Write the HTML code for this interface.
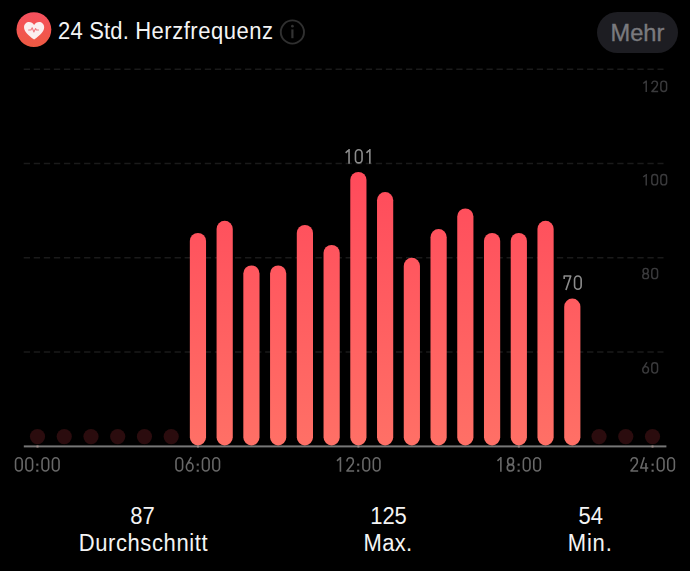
<!DOCTYPE html>
<html><head><meta charset="utf-8"><style>
html,body{margin:0;padding:0;background:#000;}
body{width:690px;height:571px;position:relative;overflow:hidden;font-family:"Liberation Sans",sans-serif;}
.t{position:absolute;white-space:nowrap;line-height:1;}
.title{left:58.1px;top:19.6px;font-size:22px;color:#f4f4f4;letter-spacing:0.32px;transform:scaleY(1.065);transform-origin:0 0;}
.mehr{left:596.6px;top:12px;width:81.6px;height:41px;border-radius:20.5px;background:#1d1d22;}
.mehrt{left:596.6px;top:13.4px;width:81.6px;color:#7a7a7e;font-size:23.7px;text-align:center;line-height:41px;-webkit-text-stroke:0.35px #7a7a7e;}
.st{color:#f4f4f4;font-size:22px;text-align:center;width:200px;transform:scaleY(1.065);transform-origin:50% 0;}
</style></head><body>
<svg width="690" height="571" style="position:absolute;left:0;top:0">
<defs>
<linearGradient id="g" gradientUnits="userSpaceOnUse" x1="0" y1="170" x2="0" y2="446"><stop offset="0" stop-color="#ff4a5b"/><stop offset="1" stop-color="#ff7066"/></linearGradient>
<linearGradient id="ic" x1="0" y1="0" x2="0" y2="1"><stop offset="0" stop-color="#f6505f"/><stop offset="1" stop-color="#ee5a42"/></linearGradient>
</defs>
<line x1="23.7" x2="663.5" y1="69.2" y2="69.2" stroke="#1a1a1a" stroke-width="1.5" stroke-dasharray="6.3 3.76"/>
<line x1="23.7" x2="663.5" y1="163.5" y2="163.5" stroke="#1a1a1a" stroke-width="1.5" stroke-dasharray="6.3 3.76"/>
<line x1="23.7" x2="663.5" y1="257.8" y2="257.8" stroke="#1a1a1a" stroke-width="1.5" stroke-dasharray="6.3 3.76"/>
<line x1="23.7" x2="663.5" y1="352.0" y2="352.0" stroke="#1a1a1a" stroke-width="1.5" stroke-dasharray="6.3 3.76"/>

<circle cx="37.50" cy="436.6" r="7.6" fill="#2b0c0e"/>
<circle cx="64.24" cy="436.6" r="7.6" fill="#2b0c0e"/>
<circle cx="90.98" cy="436.6" r="7.6" fill="#2b0c0e"/>
<circle cx="117.72" cy="436.6" r="7.6" fill="#2b0c0e"/>
<circle cx="144.46" cy="436.6" r="7.6" fill="#2b0c0e"/>
<circle cx="171.20" cy="436.6" r="7.6" fill="#2b0c0e"/>
<circle cx="599.04" cy="436.6" r="7.6" fill="#2b0c0e"/>
<circle cx="625.78" cy="436.6" r="7.6" fill="#2b0c0e"/>
<circle cx="652.52" cy="436.6" r="7.6" fill="#2b0c0e"/>

<rect x="23.8" y="445.4" width="642.6" height="2.0" fill="#767676"/>
<rect x="189.84" y="232.9" width="16.2" height="212.5" rx="8.1" fill="url(#g)"/>
<rect x="216.58" y="220.8" width="16.2" height="224.6" rx="8.1" fill="url(#g)"/>
<rect x="243.32" y="265.4" width="16.2" height="180.0" rx="8.1" fill="url(#g)"/>
<rect x="270.06" y="265.4" width="16.2" height="180.0" rx="8.1" fill="url(#g)"/>
<rect x="296.80" y="224.9" width="16.2" height="220.5" rx="8.1" fill="url(#g)"/>
<rect x="323.54" y="245.0" width="16.2" height="200.4" rx="8.1" fill="url(#g)"/>
<rect x="350.28" y="171.9" width="16.2" height="273.5" rx="8.1" fill="url(#g)"/>
<rect x="377.02" y="192.1" width="16.2" height="253.3" rx="8.1" fill="url(#g)"/>
<rect x="403.76" y="257.8" width="16.2" height="187.6" rx="8.1" fill="url(#g)"/>
<rect x="430.50" y="229.1" width="16.2" height="216.3" rx="8.1" fill="url(#g)"/>
<rect x="457.24" y="208.4" width="16.2" height="237.0" rx="8.1" fill="url(#g)"/>
<rect x="483.98" y="232.9" width="16.2" height="212.5" rx="8.1" fill="url(#g)"/>
<rect x="510.72" y="232.9" width="16.2" height="212.5" rx="8.1" fill="url(#g)"/>
<rect x="537.46" y="220.8" width="16.2" height="224.6" rx="8.1" fill="url(#g)"/>
<rect x="564.20" y="298.6" width="16.2" height="146.8" rx="8.1" fill="url(#g)"/>

<rect x="36.50" y="445.5" width="2" height="2" fill="#a08c88"/>
<rect x="196.94" y="445.5" width="2" height="2" fill="#a08c88"/>
<rect x="357.38" y="445.5" width="2" height="2" fill="#a08c88"/>
<rect x="517.82" y="445.5" width="2" height="2" fill="#a08c88"/>
<rect x="651.52" y="445.5" width="2" height="2" fill="#a08c88"/>

<g transform="translate(13.65,457.00) scale(1.0,1.0)" fill="none" stroke="#686868" stroke-width="1.6" stroke-linejoin="round"><g transform="translate(0.00,0)"><path d="M1.9,4.3 A3.3,3.5 0 0 1 8.5,4.3 L8.5,10.5 A3.3,3.5 0 0 1 1.9,10.5 Z"/></g><g transform="translate(10.40,0)"><path d="M1.9,4.3 A3.3,3.5 0 0 1 8.5,4.3 L8.5,10.5 A3.3,3.5 0 0 1 1.9,10.5 Z"/></g><rect x="22.60" y="6.6" width="2.1" height="2.1" fill="#686868" stroke="none"/><rect x="22.60" y="12.7" width="2.1" height="2.1" fill="#686868" stroke="none"/><g transform="translate(26.50,0)"><path d="M1.9,4.3 A3.3,3.5 0 0 1 8.5,4.3 L8.5,10.5 A3.3,3.5 0 0 1 1.9,10.5 Z"/></g><g transform="translate(36.90,0)"><path d="M1.9,4.3 A3.3,3.5 0 0 1 8.5,4.3 L8.5,10.5 A3.3,3.5 0 0 1 1.9,10.5 Z"/></g></g>
<g transform="translate(174.09,457.00) scale(1.0,1.0)" fill="none" stroke="#686868" stroke-width="1.6" stroke-linejoin="round"><g transform="translate(0.00,0)"><path d="M1.9,4.3 A3.3,3.5 0 0 1 8.5,4.3 L8.5,10.5 A3.3,3.5 0 0 1 1.9,10.5 Z"/></g><g transform="translate(10.40,0)"><path d="M6.7,0.2 L2.7,7.4 M1.9,9.9 A3.3,4.1 0 1 1 8.5,9.9 A3.3,4.1 0 1 1 1.9,9.9 Z"/></g><rect x="22.60" y="6.6" width="2.1" height="2.1" fill="#686868" stroke="none"/><rect x="22.60" y="12.7" width="2.1" height="2.1" fill="#686868" stroke="none"/><g transform="translate(26.50,0)"><path d="M1.9,4.3 A3.3,3.5 0 0 1 8.5,4.3 L8.5,10.5 A3.3,3.5 0 0 1 1.9,10.5 Z"/></g><g transform="translate(36.90,0)"><path d="M1.9,4.3 A3.3,3.5 0 0 1 8.5,4.3 L8.5,10.5 A3.3,3.5 0 0 1 1.9,10.5 Z"/></g></g>
<g transform="translate(334.53,457.00) scale(1.0,1.0)" fill="none" stroke="#686868" stroke-width="1.6" stroke-linejoin="round"><g transform="translate(0.00,0)"><path d="M2.5,3.9 L5.9,0.75 M5.9,0 L5.9,14.8"/></g><g transform="translate(10.40,0)"><path d="M2.0,4.5 C2.0,2.2 3.3,0.8 5.2,0.8 C7.1,0.8 8.4,2.2 8.4,4.3 C8.4,5.6 8.0,6.5 7.2,7.6 L2.0,14.0 L9.2,14.0"/></g><rect x="22.60" y="6.6" width="2.1" height="2.1" fill="#686868" stroke="none"/><rect x="22.60" y="12.7" width="2.1" height="2.1" fill="#686868" stroke="none"/><g transform="translate(26.50,0)"><path d="M1.9,4.3 A3.3,3.5 0 0 1 8.5,4.3 L8.5,10.5 A3.3,3.5 0 0 1 1.9,10.5 Z"/></g><g transform="translate(36.90,0)"><path d="M1.9,4.3 A3.3,3.5 0 0 1 8.5,4.3 L8.5,10.5 A3.3,3.5 0 0 1 1.9,10.5 Z"/></g></g>
<g transform="translate(494.97,457.00) scale(1.0,1.0)" fill="none" stroke="#686868" stroke-width="1.6" stroke-linejoin="round"><g transform="translate(0.00,0)"><path d="M2.5,3.9 L5.9,0.75 M5.9,0 L5.9,14.8"/></g><g transform="translate(10.40,0)"><path d="M2.3,4.2 A2.9,3.4 0 1 1 8.1,4.2 A2.9,3.4 0 1 1 2.3,4.2 Z M1.9,10.8 A3.3,3.2 0 1 1 8.5,10.8 A3.3,3.2 0 1 1 1.9,10.8 Z"/></g><rect x="22.60" y="6.6" width="2.1" height="2.1" fill="#686868" stroke="none"/><rect x="22.60" y="12.7" width="2.1" height="2.1" fill="#686868" stroke="none"/><g transform="translate(26.50,0)"><path d="M1.9,4.3 A3.3,3.5 0 0 1 8.5,4.3 L8.5,10.5 A3.3,3.5 0 0 1 1.9,10.5 Z"/></g><g transform="translate(36.90,0)"><path d="M1.9,4.3 A3.3,3.5 0 0 1 8.5,4.3 L8.5,10.5 A3.3,3.5 0 0 1 1.9,10.5 Z"/></g></g>
<g transform="translate(628.97,457.00) scale(1.0,1.0)" fill="none" stroke="#686868" stroke-width="1.6" stroke-linejoin="round"><g transform="translate(0.00,0)"><path d="M2.0,4.5 C2.0,2.2 3.3,0.8 5.2,0.8 C7.1,0.8 8.4,2.2 8.4,4.3 C8.4,5.6 8.0,6.5 7.2,7.6 L2.0,14.0 L9.2,14.0"/></g><g transform="translate(10.40,0)"><path d="M4.9,0.2 L1.4,11.0 L8.9,11.0 M6.6,6.0 L6.6,14.8"/></g><rect x="22.60" y="6.6" width="2.1" height="2.1" fill="#686868" stroke="none"/><rect x="22.60" y="12.7" width="2.1" height="2.1" fill="#686868" stroke="none"/><g transform="translate(26.50,0)"><path d="M1.9,4.3 A3.3,3.5 0 0 1 8.5,4.3 L8.5,10.5 A3.3,3.5 0 0 1 1.9,10.5 Z"/></g><g transform="translate(36.90,0)"><path d="M1.9,4.3 A3.3,3.5 0 0 1 8.5,4.3 L8.5,10.5 A3.3,3.5 0 0 1 1.9,10.5 Z"/></g></g>
<g transform="translate(343.15,148.90) scale(1.0,1.0)" fill="none" stroke="#8c8c8c" stroke-width="1.6" stroke-linejoin="round"><g transform="translate(0.00,0)"><path d="M2.5,3.9 L5.9,0.75 M5.9,0 L5.9,14.8"/></g><g transform="translate(10.40,0)"><path d="M1.9,4.3 A3.3,3.5 0 0 1 8.5,4.3 L8.5,10.5 A3.3,3.5 0 0 1 1.9,10.5 Z"/></g><g transform="translate(20.80,0)"><path d="M2.5,3.9 L5.9,0.75 M5.9,0 L5.9,14.8"/></g></g>
<g transform="translate(562.25,275.20) scale(1.0,1.0)" fill="none" stroke="#8c8c8c" stroke-width="1.6" stroke-linejoin="round"><g transform="translate(0.00,0)"><path d="M1.9,3.9 L1.9,0.8 L8.5,0.8 L3.7,14.8"/></g><g transform="translate(10.40,0)"><path d="M1.9,4.3 A3.3,3.5 0 0 1 8.5,4.3 L8.5,10.5 A3.3,3.5 0 0 1 1.9,10.5 Z"/></g></g>
<g transform="translate(641.10,80.50) scale(0.87,0.784)" fill="none" stroke="#3a3a3c" stroke-width="1.7" stroke-linejoin="round"><g transform="translate(0.00,0)"><path d="M2.5,3.9 L5.9,0.75 M5.9,0 L5.9,14.8"/></g><g transform="translate(10.40,0)"><path d="M2.0,4.5 C2.0,2.2 3.3,0.8 5.2,0.8 C7.1,0.8 8.4,2.2 8.4,4.3 C8.4,5.6 8.0,6.5 7.2,7.6 L2.0,14.0 L9.2,14.0"/></g><g transform="translate(20.80,0)"><path d="M1.9,4.3 A3.3,3.5 0 0 1 8.5,4.3 L8.5,10.5 A3.3,3.5 0 0 1 1.9,10.5 Z"/></g></g>
<g transform="translate(641.10,173.90) scale(0.87,0.784)" fill="none" stroke="#3a3a3c" stroke-width="1.7" stroke-linejoin="round"><g transform="translate(0.00,0)"><path d="M2.5,3.9 L5.9,0.75 M5.9,0 L5.9,14.8"/></g><g transform="translate(10.40,0)"><path d="M1.9,4.3 A3.3,3.5 0 0 1 8.5,4.3 L8.5,10.5 A3.3,3.5 0 0 1 1.9,10.5 Z"/></g><g transform="translate(20.80,0)"><path d="M1.9,4.3 A3.3,3.5 0 0 1 8.5,4.3 L8.5,10.5 A3.3,3.5 0 0 1 1.9,10.5 Z"/></g></g>
<g transform="translate(641.10,267.70) scale(0.87,0.784)" fill="none" stroke="#3a3a3c" stroke-width="1.7" stroke-linejoin="round"><g transform="translate(0.00,0)"><path d="M2.3,4.2 A2.9,3.4 0 1 1 8.1,4.2 A2.9,3.4 0 1 1 2.3,4.2 Z M1.9,10.8 A3.3,3.2 0 1 1 8.5,10.8 A3.3,3.2 0 1 1 1.9,10.8 Z"/></g><g transform="translate(10.40,0)"><path d="M1.9,4.3 A3.3,3.5 0 0 1 8.5,4.3 L8.5,10.5 A3.3,3.5 0 0 1 1.9,10.5 Z"/></g></g>
<g transform="translate(641.10,362.10) scale(0.87,0.784)" fill="none" stroke="#3a3a3c" stroke-width="1.7" stroke-linejoin="round"><g transform="translate(0.00,0)"><path d="M6.7,0.2 L2.7,7.4 M1.9,9.9 A3.3,4.1 0 1 1 8.5,9.9 A3.3,4.1 0 1 1 1.9,9.9 Z"/></g><g transform="translate(10.40,0)"><path d="M1.9,4.3 A3.3,3.5 0 0 1 8.5,4.3 L8.5,10.5 A3.3,3.5 0 0 1 1.9,10.5 Z"/></g></g>

<circle cx="33.9" cy="29.6" r="17.4" fill="url(#ic)"/>
<g transform="translate(34.1,30.8) scale(1.06,1.03) translate(-34,-31)"><path d="M34 39.5 C28 35 24.5 31.5 24.5 27.5 C24.5 24.5 26.8 22.5 29.3 22.5 C31.2 22.5 33 23.6 34 25.3 C35 23.6 36.8 22.5 38.7 22.5 C41.2 22.5 43.5 24.5 43.5 27.5 C43.5 31.5 40 35 34 39.5 Z" fill="#fbeff0"/>
<path d="M28.8 30.2 L31 30.2 L32.2 28 L33.8 32.2 L35.4 28.8 L36.2 30.2 L38.2 30.2" fill="none" stroke="#f07880" stroke-width="1.0" stroke-linejoin="round" stroke-linecap="round"/></g>
<circle cx="292.4" cy="32" r="11.6" fill="none" stroke="#303030" stroke-width="1.9"/>
<rect x="291.3" y="29.4" width="2.2" height="8.8" fill="#333333"/>
<circle cx="292.4" cy="26.2" r="1.35" fill="#333333"/>
</svg>
<div class="t title"><span style="letter-spacing:0.16px">24 Std. </span><span style="letter-spacing:0.51px">Herzfrequenz</span></div>
<div class="t mehr"></div><div class="t mehrt">Mehr</div>
<div class="t st" style="left:42.5px;top:504.6px">87</div>
<div class="t st" style="left:43.4px;top:531.5px;letter-spacing:0.6px">Durchschnitt</div>
<div class="t st" style="left:288.5px;top:504.6px">125</div>
<div class="t st" style="left:288px;top:531.5px;letter-spacing:0.35px">Max.</div>
<div class="t st" style="left:490.7px;top:504.6px">54</div>
<div class="t st" style="left:490.2px;top:531.5px;letter-spacing:0.8px">Min.</div>
</body></html>
